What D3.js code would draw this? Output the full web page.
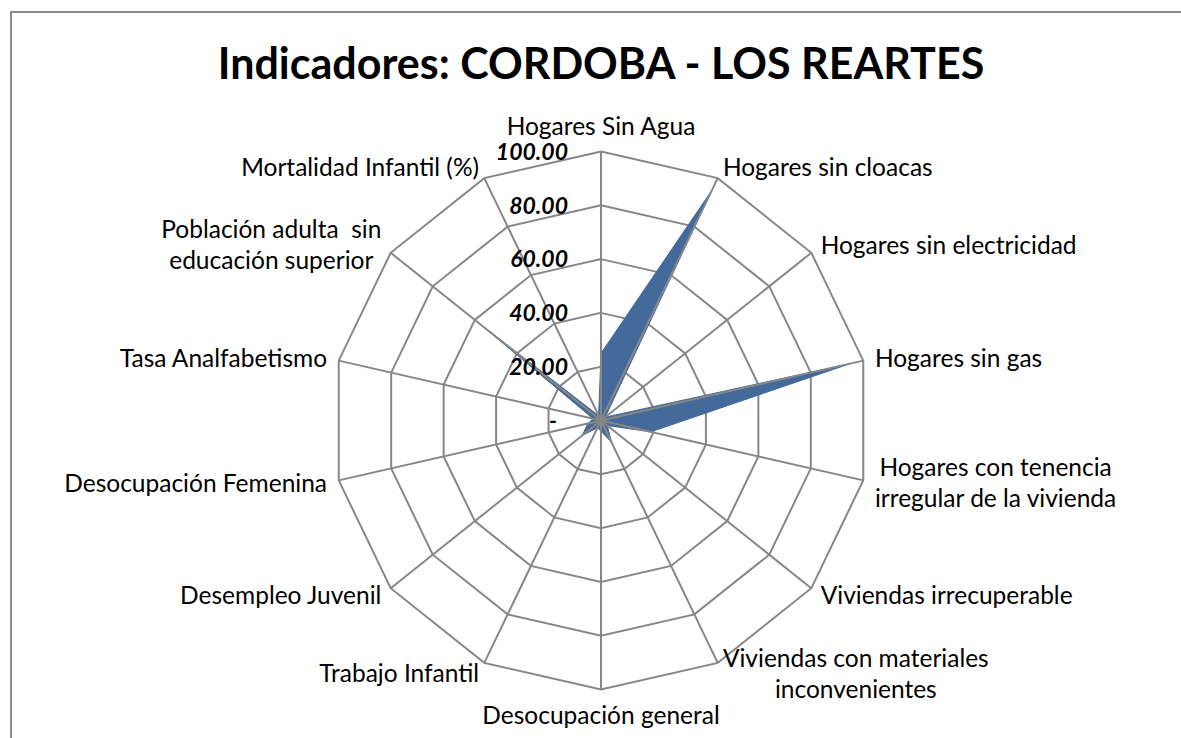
<!DOCTYPE html>
<html>
<head>
<meta charset="utf-8">
<script src="https://cdn.jsdelivr.net/npm/d3@7"></script>
<style>
  html, body { margin: 0; background: #fff; overflow: hidden; }
  svg { display: block; }
  text { font-family: Lato, "Open Sans", sans-serif; fill: #000; white-space: pre; }
</style>
</head>
<body>
<div id="chart"></div>
<script>
const title = "Indicadores: CORDOBA - LOS REARTES";

// one entry per spoke, clockwise from the top
const categories = [
  ["Hogares Sin Agua"],
  ["Hogares sin cloacas"],
  ["Hogares sin electricidad"],
  ["Hogares sin gas"],
  ["Hogares con tenencia", "irregular de la vivienda"],
  ["Viviendas irrecuperable"],
  ["Viviendas con materiales", "inconvenientes"],
  ["Desocupación general"],
  ["Trabajo Infantil"],
  ["Desempleo Juvenil"],
  ["Desocupación Femenina"],
  ["Tasa Analfabetismo"],
  ["Población adulta  sin", "educación superior"],
  ["Mortalidad Infantil (%)"]
];
const values = [25, 95, 2, 95, 19, 3, 9, 4, 3, 9, 5, 3, 59, 2];
const ticks = [0, 20, 40, 60, 80, 100];

const width = 1181, height = 738;
const cx = 601, cy = 420.5, R = 269;
const gridColor = "#878787";
const fillColor = "#44699b";

const svg = d3.select("#chart").append("svg")
  .attr("width", width)
  .attr("height", height);

// chart frame (only left and top edges fall inside the picture)
svg.append("rect")
  .attr("x", 11).attr("y", 12)
  .attr("width", 1300).attr("height", 900)
  .attr("fill", "none")
  .attr("stroke", "#8c8c8c")
  .attr("stroke-width", 2);

svg.append("text")
  .attr("x", 601).attr("y", 79)
  .attr("text-anchor", "middle")
  .style("font-weight", "bold")
  .style("font-size", "43px")
  .text(title);

const n = categories.length;
const angle = d3.scaleLinear().domain([0, n]).range([0, 2 * Math.PI]);
const r = d3.scaleLinear().domain([0, 100]).range([0, R]);

const g = svg.append("g").attr("transform", `translate(${cx},${cy})`);

// rings
const ringLine = d3.lineRadial()
  .angle((d, i) => angle(i))
  .radius(d => r(d))
  .curve(d3.curveLinearClosed);

g.selectAll(".ring")
  .data(ticks.filter(t => t > 0))
  .enter().append("path")
  .attr("class", "ring")
  .attr("d", t => ringLine(d3.range(n).map(() => t)))
  .attr("fill", "none")
  .attr("stroke", gridColor)
  .attr("stroke-width", 2);

// data area
g.append("path")
  .attr("d", ringLine(values))
  .attr("fill", fillColor)
  .attr("stroke", fillColor)
  .attr("stroke-width", 1);

// spokes
g.selectAll(".spoke")
  .data(d3.range(n))
  .enter().append("line")
  .attr("class", "spoke")
  .attr("x1", 0).attr("y1", 0)
  .attr("x2", i => r(100) * Math.sin(angle(i)))
  .attr("y2", i => -r(100) * Math.cos(angle(i)))
  .attr("stroke", gridColor)
  .attr("stroke-width", 2);

// value labels along the top spoke
g.selectAll(".tick")
  .data(ticks)
  .enter().append("text")
  .attr("class", "tick")
  .attr("x", t => t === 0 ? -44 : -33)
  .attr("y", t => -r(t))
  .attr("dy", "0.36em")
  .attr("text-anchor", "end")
  .style("font-weight", "bold")
  .style("font-style", "italic")
  .style("font-size", "23px")
  .text(t => t === 0 ? "-" : t.toFixed(2));

// category labels
const pad = 12, lineH = 31;
categories.forEach((lines, i) => {
  const a = angle(i);
  const sx = Math.sin(a), sy = -Math.cos(a);
  const vx = r(100) * sx, vy = r(100) * sy;
  let x = vx + pad * sx;
  let yc = vy + pad * sy;
  const half = lines.length * lineH / 2;
  if (Math.abs(sx) < 0.1) yc += sy * (half - 2);
  const lab = g.append("g");
  const texts = lines.map((s, k) => lab.append("text")
    .attr("y", yc + (k - (lines.length - 1) / 2) * lineH)
    .attr("dy", "0.35em")
    .style("font-size", "24.5px")
    .text(s));
  const maxW = d3.max(texts, t => t.node().getComputedTextLength());
  let mid;
  if (Math.abs(sx) < 0.1) mid = x;
  else if (sx > 0) mid = x + maxW / 2;
  else mid = x - maxW / 2;
  texts.forEach(t => t.attr("x", mid).attr("text-anchor", "middle"));
});
</script>
</body>
</html>
